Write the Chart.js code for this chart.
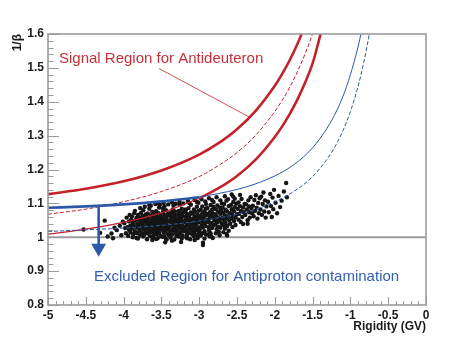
<!DOCTYPE html>
<html>
<head>
<meta charset="utf-8">
<script src="https://cdn.jsdelivr.net/npm/chart.js@4.4.1/dist/chart.umd.min.js"></script>
<style>
  html, body { margin: 0; padding: 0; background: #fff; }
  #wrap { width: 473px; height: 340px; }
</style>
</head>
<body>
<div id="wrap"><canvas id="chart"></canvas></div>
<script>
// antideuteron band (red)
const deutRigidity = [-5, -4.5, -4, -3.5, -3, -2.75, -2.5, -2.25, -2, -1.9, -1.8, -1.7, -1.6, -1.5, -1.4, -1.3];
const deutCentre = [1.068, 1.083, 1.105, 1.135, 1.179, 1.211, 1.250, 1.302, 1.371, 1.405, 1.444, 1.489, 1.541, 1.601, 1.672, 1.756];
const deutUpper = [1.127, 1.143, 1.165, 1.197, 1.244, 1.277, 1.319, 1.374, 1.447, 1.483, 1.524, 1.571, 1.626, 1.689, 1.764, 1.852];
const deutLower = [1.009, 1.024, 1.044, 1.072, 1.115, 1.144, 1.181, 1.230, 1.296, 1.328, 1.365, 1.407, 1.456, 1.513, 1.595, 1.680];

// antiproton curves (blue)
const pbarRigidity = [-5, -4.5, -4, -3.5, -3, -2.5, -2.25, -2, -1.75, -1.5, -1.25, -1.1, -1, -0.9, -0.85, -0.8, -0.75, -0.7];
const pbarCentre = [1.017, 1.022, 1.027, 1.035, 1.048, 1.068, 1.083, 1.105, 1.135, 1.179, 1.250, 1.314, 1.371, 1.444, 1.489, 1.541, 1.601, 1.672];
const pbarUpper = [1.087, 1.091, 1.097, 1.106, 1.118, 1.141, 1.158, 1.181, 1.214, 1.264, 1.344, 1.415, 1.480, 1.561, 1.611, 1.667, 1.730, 1.800];

// label pointer, arrow, 1/beta = 1 reference
const pointerX = [-3.53, -2.33];
const pointerY = [1.498, 1.354];
const arrowX = [-4.33, -4.33];
const arrowY = [1.093, 0.98];
const arrowHeadX = [-4.33];
const arrowHeadY = [0.968];
const unityX = [-5, 0];
const unityY = [1, 1];

// candidate events
const eventRigidity = [
  -4.53,-4.31,-4.25,-4.16,-4.14,-4.09,-4.05,-4.03,-4.01,-4.12,-4.21,
  -3.99,-3.97,-3.96,-3.95,-3.94,-3.93,-3.93,-3.92,-3.91,-3.91,-3.90,-3.98,
  -3.89,-3.89,-3.88,-3.87,-3.87,-3.86,-3.85,-3.85,-3.84,-3.83,-3.83,-3.82,-3.82,-3.81,-3.81,-3.80,
  -3.80,-3.79,-3.79,-3.78,-3.78,-3.77,-3.77,-3.76,-3.76,-3.75,-3.75,-3.74,-3.74,-3.73,-3.73,-3.72,-3.72,-3.71,-3.71,-3.70,
  -3.70,-3.69,-3.69,-3.68,-3.68,-3.67,-3.67,-3.66,-3.66,-3.65,-3.65,-3.64,-3.64,-3.63,-3.63,-3.62,-3.62,-3.61,-3.61,-3.60,-3.60,-3.66,
  -3.59,-3.59,-3.58,-3.58,-3.57,-3.57,-3.56,-3.56,-3.56,-3.55,-3.55,-3.54,-3.54,-3.53,-3.53,-3.53,-3.52,-3.52,-3.51,-3.51,-3.50,-3.50,-3.57,-3.54,
  -3.49,-3.49,-3.48,-3.48,-3.47,-3.47,-3.47,-3.46,-3.46,-3.45,-3.45,-3.45,-3.44,-3.44,-3.43,-3.43,-3.42,-3.42,-3.42,-3.41,-3.41,-3.40,-3.40,-3.46,-3.43,-3.48,
  -3.39,-3.39,-3.38,-3.38,-3.37,-3.37,-3.37,-3.36,-3.36,-3.35,-3.35,-3.35,-3.34,-3.34,-3.33,-3.33,-3.32,-3.32,-3.32,-3.31,-3.31,-3.30,-3.30,-3.36,-3.34,-3.31,
  -3.29,-3.29,-3.28,-3.28,-3.27,-3.27,-3.27,-3.26,-3.26,-3.25,-3.25,-3.25,-3.24,-3.24,-3.23,-3.23,-3.22,-3.22,-3.22,-3.21,-3.21,-3.20,-3.20,-3.26,-3.24,-3.28,
  -3.19,-3.19,-3.18,-3.18,-3.17,-3.17,-3.17,-3.16,-3.16,-3.15,-3.15,-3.15,-3.14,-3.14,-3.13,-3.13,-3.12,-3.12,-3.12,-3.11,-3.11,-3.10,-3.10,-3.16,-3.13,-3.18,
  -3.09,-3.09,-3.08,-3.08,-3.07,-3.07,-3.07,-3.06,-3.06,-3.05,-3.05,-3.05,-3.04,-3.04,-3.03,-3.03,-3.02,-3.02,-3.02,-3.01,-3.01,-3.00,-3.00,-3.06,-3.03,
  -2.99,-2.99,-2.98,-2.98,-2.97,-2.97,-2.96,-2.96,-2.96,-2.95,-2.95,-2.94,-2.94,-2.93,-2.93,-2.93,-2.92,-2.92,-2.91,-2.91,-2.90,-2.90,-2.95,-2.92,
  -2.89,-2.89,-2.88,-2.88,-2.87,-2.87,-2.86,-2.86,-2.85,-2.85,-2.85,-2.84,-2.84,-2.83,-2.83,-2.82,-2.82,-2.81,-2.81,-2.80,-2.86,-2.83,
  -2.79,-2.79,-2.78,-2.78,-2.77,-2.77,-2.76,-2.76,-2.75,-2.75,-2.74,-2.74,-2.73,-2.73,-2.72,-2.72,-2.71,-2.71,-2.70,-2.70,
  -2.69,-2.69,-2.68,-2.68,-2.67,-2.67,-2.66,-2.66,-2.65,-2.65,-2.64,-2.64,-2.63,-2.63,-2.62,-2.61,-2.61,-2.60,
  -2.59,-2.59,-2.58,-2.57,-2.57,-2.56,-2.56,-2.55,-2.54,-2.54,-2.53,-2.52,-2.52,-2.51,-2.50,-2.55,
  -2.49,-2.48,-2.48,-2.47,-2.46,-2.45,-2.45,-2.44,-2.43,-2.42,-2.42,-2.41,-2.40,-2.46,
  -2.39,-2.38,-2.37,-2.36,-2.35,-2.34,-2.34,-2.33,-2.32,-2.31,-2.30,-2.36,
  -2.29,-2.28,-2.27,-2.26,-2.25,-2.24,-2.23,-2.22,-2.21,-2.20,
  -2.19,-2.18,-2.17,-2.16,-2.15,-2.14,-2.13,-2.12,-2.11,
  -2.09,-2.08,-2.06,-2.05,-2.04,-2.03,-2.02,-2.01,
  -1.99,-1.97,-1.95,-1.93,-1.91,-1.88,-1.85,-1.84,
  -2.95,-2.82,-3.45,-3.62,-2.63,
  -3.85,-3.78,-3.72,-3.64,-3.58,-3.52,-3.47,-3.41,-3.36,-3.31,-3.26,-3.21,-3.15,-3.11,-3.06,-3.01,-2.97,-2.91,-2.87,-2.81,-2.77,-2.72,-2.66,-2.62,-2.57,-2.53,
  -3.88,-3.81,-3.74,-3.69,-3.61,-3.55,-3.49,-3.44,-3.38,-3.33,-3.27,-3.23,-3.17,-3.12,-3.07,-3.02,-2.98,-2.93,-2.88,-2.84,-2.78,-2.73,-2.68,-2.64
];
const eventInvBeta = [
  1.023,1.013,1.049,1.011,0.997,1.021,1.034,1.006,1.046,1.028,1.002,
  1.041,1.012,1.058,1.030,1.004,1.047,1.022,1.066,1.035,1.014,1.052,1.027,
  1.025,1.061,1.043,1.009,1.036,1.071,1.018,1.049,1.030,1.057,0.998,1.040,1.012,1.066,1.027,1.052,
  1.034,1.019,1.058,1.044,1.005,1.072,1.029,1.051,1.013,1.063,1.038,1.024,1.080,1.046,1.008,1.056,1.031,1.067,1.017,1.042,
  1.061,1.027,1.048,1.011,1.070,1.036,1.055,1.020,1.084,1.043,1.003,1.064,1.030,1.050,1.015,1.075,1.039,1.024,1.058,1.046,1.008,1.095,
  1.033,1.066,1.018,1.052,1.041,1.077,1.009,1.029,1.060,1.047,1.021,1.071,1.036,1.014,1.055,1.088,1.026,1.043,1.063,1.004,1.050,1.032,0.995,1.100,
  1.057,1.022,1.040,1.074,1.013,1.048,1.030,1.066,1.002,1.054,1.037,1.019,1.080,1.044,1.027,1.061,1.011,1.050,1.034,1.070,1.023,1.046,1.006,1.091,0.993,1.085,
  1.031,1.064,1.047,1.015,1.073,1.038,1.056,1.021,1.008,1.061,1.043,1.082,1.026,1.052,1.035,1.068,1.017,1.045,1.076,1.029,1.058,1.040,1.003,0.990,1.094,1.012,
  1.052,1.020,1.067,1.036,1.044,1.009,1.078,1.060,1.027,1.049,1.014,1.071,1.033,1.056,1.023,1.084,1.041,1.063,1.005,1.030,1.074,1.048,1.018,1.097,0.986,1.039,
  1.061,1.028,1.045,1.079,1.016,1.053,1.035,1.069,1.007,1.058,1.040,1.022,1.086,1.047,1.031,1.064,1.013,1.055,1.038,1.073,1.025,1.050,1.010,0.997,1.101,1.082,
  1.037,1.070,1.019,1.054,1.082,1.043,1.026,1.062,1.011,1.048,1.075,1.033,1.058,1.021,1.090,1.041,1.066,1.006,1.051,1.029,1.078,1.045,1.015,0.992,1.104,
  1.060,1.024,1.047,1.081,1.035,1.067,1.012,1.054,1.091,1.029,1.072,1.041,1.058,1.018,1.077,1.049,1.033,1.064,1.008,1.085,1.044,1.069,0.984,1.106,
  1.052,1.086,1.030,1.066,1.045,1.020,1.074,1.057,1.037,1.095,1.012,1.063,1.042,1.081,1.027,1.058,1.070,1.035,1.090,1.049,1.002,1.110,
  1.068,1.038,1.083,1.051,1.024,1.062,1.094,1.044,1.075,1.031,1.056,1.016,1.088,1.047,1.069,1.028,1.080,1.055,1.039,1.100,
  1.058,1.087,1.036,1.072,1.049,1.098,1.026,1.064,1.081,1.043,1.108,1.055,1.033,1.076,1.062,1.092,1.019,1.050,
  1.071,1.040,1.095,1.056,1.083,1.030,1.066,1.104,1.048,1.077,1.089,1.059,1.036,1.099,1.068,1.120,
  1.084,1.052,1.103,1.069,1.092,1.045,1.078,1.113,1.060,1.088,1.039,1.074,1.098,1.125,
  1.066,1.097,1.082,1.050,1.109,1.074,1.091,1.058,1.118,1.085,1.071,1.040,
  1.093,1.062,1.110,1.078,1.124,1.087,1.055,1.101,1.071,1.115,
  1.082,1.120,1.066,1.098,1.132,1.076,1.109,1.058,1.091,
  1.105,1.074,1.128,1.092,1.060,1.117,1.083,1.140,
  1.102,1.071,1.122,1.089,1.108,1.135,1.160,1.118,
  0.977,0.998,0.985,0.992,1.005,
  1.078,1.086,1.090,1.093,1.098,1.096,1.101,1.097,1.103,1.099,1.105,1.100,1.107,1.096,1.110,1.102,1.112,1.098,1.115,1.104,1.118,1.109,1.121,1.112,1.126,1.114,
  1.000,0.996,1.002,0.994,1.000,0.997,1.001,0.995,0.999,0.993,1.002,0.996,1.000,0.994,1.003,0.998,1.005,0.996,1.008,1.003,1.012,1.006,1.015,1.010
];

const RED = '#c4222b';
const BLUE = '#2c5aa8';
const GRAY = '#9b9b9b';
const FONT = '"Liberation Sans", Arial, Helvetica, sans-serif';

function toPoints(xs, ys) {
  return xs.map((x, i) => ({ x: x, y: ys[i] }));
}

function curve(xs, ys, color, width, dash) {
  return {
    data: toPoints(xs, ys),
    showLine: true,
    borderColor: color,
    borderWidth: width,
    borderDash: dash || [],
    pointRadius: 0,
    cubicInterpolationMode: 'monotone',
    fill: false
  };
}

// ROOT style frame, inner ticks and the two labels
const rootStyle = {
  id: 'rootStyle',
  afterDraw(chart) {
    const ctx = chart.ctx;
    const area = chart.chartArea;
    const xs = chart.scales.x;
    const ys = chart.scales.y;
    ctx.save();
    ctx.strokeStyle = GRAY;
    ctx.lineWidth = 1;
    ctx.beginPath();
    xs.ticks.forEach(t => {
      const px = Math.round(xs.getPixelForValue(t.value)) + 0.5;
      const major = Math.abs(t.value * 2 - Math.round(t.value * 2)) < 1e-6;
      ctx.moveTo(px, area.bottom);
      ctx.lineTo(px, area.bottom - (major ? 8 : 4));
    });
    ys.ticks.forEach(t => {
      const py = Math.round(ys.getPixelForValue(t.value)) + 0.5;
      const major = Math.abs(t.value * 10 - Math.round(t.value * 10)) < 1e-6;
      ctx.moveTo(area.left, py);
      ctx.lineTo(area.left + (major ? 11 : 5.5), py);
    });
    ctx.stroke();
    ctx.lineWidth = 1.6;
    ctx.strokeRect(area.left, area.top, area.right - area.left, area.bottom - area.top);

    ctx.font = '15px ' + FONT;
    ctx.textBaseline = 'alphabetic';
    ctx.textAlign = 'left';
    ctx.fillStyle = '#c8303a';
    ctx.fillText('Signal Region for Antideuteron', xs.getPixelForValue(-4.855), ys.getPixelForValue(1.515));
    ctx.fillStyle = '#3461b0';
    ctx.fillText('Excluded Region for Antiproton contamination', xs.getPixelForValue(-4.392), ys.getPixelForValue(0.872));
    ctx.restore();
  }
};

const datasets = [
  curve(pointerX, pointerY, RED, 0.8),
  {
    data: toPoints(arrowHeadX, arrowHeadY),
    pointStyle: 'triangle',
    rotation: 180,
    pointRadius: 8.6,
    backgroundColor: BLUE,
    borderColor: BLUE,
    borderWidth: 0,
    showLine: false
  },
  curve(arrowX, arrowY, BLUE, 2.6),
  curve(pbarRigidity.slice(0, 5), pbarUpper.slice(0, 5), BLUE, 2.6),
  curve(pbarRigidity.slice(4), pbarUpper.slice(4), BLUE, 1),
  curve(pbarRigidity, pbarCentre, BLUE, 1, [4, 2]),
  curve(deutRigidity, deutUpper, RED, 2.6),
  curve(deutRigidity, deutCentre, RED, 1, [4, 2]),
  curve(deutRigidity.slice(4), deutLower.slice(4), RED, 2.6),
  curve(deutRigidity.slice(0, 5), deutLower.slice(0, 5), RED, 1.2),
  {
    data: toPoints(eventRigidity, eventInvBeta),
    showLine: false,
    pointRadius: 2.2,
    backgroundColor: '#151515',
    borderWidth: 0
  },
  curve(unityX, unityY, GRAY, 2)
];

new Chart(document.getElementById('chart'), {
  type: 'scatter',
  data: { datasets: datasets },
  options: {
    responsive: true,
    maintainAspectRatio: false,
    animation: false,
    devicePixelRatio: 1,
    layout: { padding: { left: 0, top: 34, right: 47, bottom: 0 } },
    plugins: {
      legend: { display: false },
      tooltip: { enabled: false }
    },
    scales: {
      x: {
        type: 'linear',
        min: -5,
        max: 0,
        afterFit: s => { s.height = 35; },
        grid: { display: false, drawTicks: false, tickLength: 0 },
        border: { display: false },
        ticks: {
          stepSize: 0.1,
          autoSkip: false,
          maxRotation: 0,
          padding: 3,
          color: '#1a1a1a',
          font: { family: FONT, size: 12, weight: 'bold' },
          callback: v => Math.abs(v * 2 - Math.round(v * 2)) < 1e-6 ? String(Math.round(v * 10) / 10) : ''
        },
        title: {
          display: true,
          text: 'Rigidity (GV)',
          align: 'end',
          color: '#1a1a1a',
          font: { family: FONT, size: 12, weight: 'bold' },
          padding: { top: 0, bottom: 6 }
        }
      },
      y: {
        type: 'linear',
        min: 0.8,
        max: 1.6,
        afterFit: s => { s.width = 48; },
        grid: { display: false, drawTicks: false, tickLength: 0 },
        border: { display: false },
        ticks: {
          stepSize: 0.02,
          autoSkip: false,
          padding: 4,
          color: '#1a1a1a',
          font: { family: FONT, size: 12, weight: 'bold' },
          callback: v => Math.abs(v * 10 - Math.round(v * 10)) < 1e-6 ? String(Math.round(v * 10) / 10) : ''
        },
        title: {
          display: true,
          text: '1/β',
          align: 'end',
          color: '#1a1a1a',
          font: { family: FONT, size: 12, weight: 'bold' },
          padding: { top: 10, bottom: 0 }
        }
      }
    }
  },
  plugins: [rootStyle]
});
</script>
</body>
</html>
